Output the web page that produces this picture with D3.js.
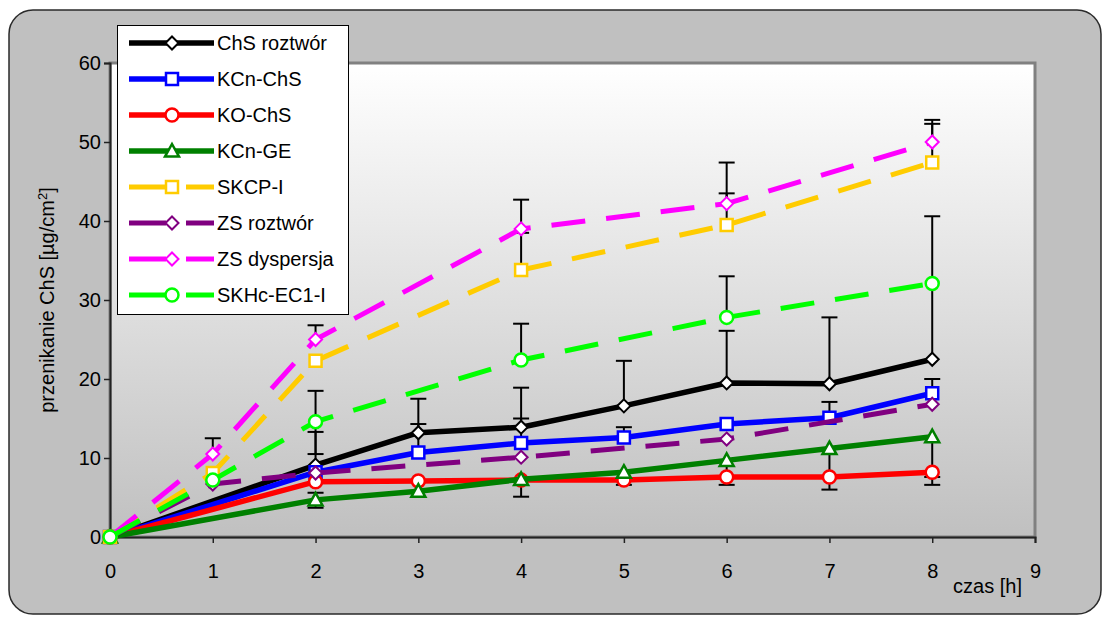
<!DOCTYPE html>
<html>
<head>
<meta charset="utf-8">
<script src="https://cdn.jsdelivr.net/npm/d3@7"></script>
<style>
  html, body { margin: 0; padding: 0; background: #ffffff; }
  svg { display: block; }
  text { font-family: "Liberation Sans", Arial, sans-serif; fill: #000; }
</style>
</head>
<body>
<svg id="chart" width="1108" height="619"></svg>
<script>
// Time points (h): solid series were sampled every hour from 2 h, dashed ones every 2 h
const timesHourly = [0, 2, 3, 4, 5, 6, 7, 8];
const timesBiHourly = [0, 1, 2, 4, 6, 8];

// Permeated ChS [µg/cm²]
const chsRoztwor  = [0, 9.1, 13.2, 13.9, 16.6, 19.5, 19.4, 22.5];
const kcnChs      = [0, 8.2, 10.7, 11.9, 12.6, 14.3, 15.1, 18.2];
const koChs       = [0, 7.0, 7.1, 7.2, 7.2, 7.6, 7.6, 8.2];
const kcnGe       = [0, 4.7, 5.8, 7.3, 8.2, 9.7, 11.2, 12.7];
const skcpI       = [0, 8.1, 22.3, 33.8, 39.5, 47.4];
const zsRoztwor   = [0, 6.7, 8.1, 10.1, 12.4, 16.8];
const zsDyspersja = [0, 10.5, 25.0, 39.0, 42.2, 50.0];
const skhcEc1I    = [0, 7.2, 14.6, 22.4, 27.8, 32.1];

// Error bars (SD): upper / lower lengths, null where no bar is drawn
const chsPlus      = [null, 4.2, 4.3, 5.0, 5.7, 6.6, 8.4, 18.1];
const kcnChsPlus   = [null, null, 3.6, 3.1, 1.3, null, 2.0, 1.8];
const koChsMinus   = [null, null, null, null, null, null, null, 0.6];
const kcnGePlus    = [null, 0.9, null, null, null, null, null, null];
const kcnGeMinus   = [null, 1.0, null, 2.2, 1.6, 3.1, 5.2, 6.1];
const skcpPlus     = [null, null, null, 4.7, 4.0, 4.9];
const zsDysPlus    = [null, 2.0, 1.8, 3.7, 5.2, 2.8];
const skhcPlus     = [null, null, 3.9, 4.6, 5.2, null];
const skhcMinus    = [null, null, 4.1, null, null, null];

// Axis ticks
const xTicks = [0, 1, 2, 3, 4, 5, 6, 7, 8, 9];
const yTicks = [0, 10, 20, 30, 40, 50, 60];

const series = [
  { name: "ChS roztwór",  t: timesHourly,   v: chsRoztwor,  plus: chsPlus,    minus: null,       color: "#000000", marker: "diamond",  dashed: false },
  { name: "KCn-ChS",      t: timesHourly,   v: kcnChs,      plus: kcnChsPlus, minus: null,       color: "#0000ff", marker: "square",   dashed: false },
  { name: "KO-ChS",       t: timesHourly,   v: koChs,       plus: null,       minus: koChsMinus, color: "#ff0000", marker: "circle",   dashed: false },
  { name: "KCn-GE",       t: timesHourly,   v: kcnGe,       plus: kcnGePlus,  minus: kcnGeMinus, color: "#008000", marker: "triangle", dashed: false },
  { name: "SKCP-I",       t: timesBiHourly, v: skcpI,       plus: skcpPlus,   minus: null,       color: "#ffcc00", marker: "square",   dashed: true },
  { name: "ZS roztwór",   t: timesBiHourly, v: zsRoztwor,   plus: null,       minus: null,       color: "#800080", marker: "diamond",  dashed: true },
  { name: "ZS dyspersja", t: timesBiHourly, v: zsDyspersja, plus: zsDysPlus,  minus: null,       color: "#ff00ff", marker: "diamond",  dashed: true },
  { name: "SKHc-EC1-I",   t: timesBiHourly, v: skhcEc1I,    plus: skhcPlus,   minus: skhcMinus,  color: "#00ff00", marker: "circle",   dashed: true }
];

const svg = d3.select("#chart");
const plot = { left: 110, top: 63, right: 1035, bottom: 537 };

const x = d3.scaleLinear().domain([0, 9]).range([plot.left, plot.right]);
const y = d3.scaleLinear().domain([0, 60]).range([plot.bottom, plot.top]);

// Chart area with rounded frame
svg.append("rect")
  .attr("x", 9).attr("y", 10).attr("width", 1092).attr("height", 604)
  .attr("rx", 24).attr("ry", 24)
  .attr("fill", "#c0c0c0").attr("stroke", "#2a2a2a").attr("stroke-width", 1.5);

// Plot area gradient
const defs = svg.append("defs");
const grad = defs.append("linearGradient").attr("id", "plotBg")
  .attr("x1", 0).attr("y1", 0).attr("x2", 0).attr("y2", 1);
grad.append("stop").attr("offset", "0%").attr("stop-color", "#ffffff");
grad.append("stop").attr("offset", "100%").attr("stop-color", "#c0c0c0");

svg.append("rect")
  .attr("x", plot.left).attr("y", plot.top)
  .attr("width", plot.right - plot.left).attr("height", plot.bottom - plot.top)
  .attr("fill", "url(#plotBg)")
  .attr("stroke", "#808080").attr("stroke-width", 3);

// Axes
const yAxis = svg.append("g")
  .attr("transform", `translate(${plot.left},0)`)
  .call(d3.axisLeft(y).tickValues(yTicks).tickSize(6).tickPadding(3).tickFormat(d3.format("d")));
const xAxis = svg.append("g")
  .attr("transform", `translate(0,${plot.bottom})`)
  .call(d3.axisBottom(x).tickValues(xTicks).tickSize(6).tickFormat(d3.format("d")));

[yAxis, xAxis].forEach(g => {
  g.select(".domain").attr("stroke", "#222").attr("stroke-width", 2);
  g.selectAll(".tick line").attr("stroke", "#222").attr("stroke-width", 1.5);
  g.selectAll("text").attr("font-size", 20).attr("fill", "#000")
    .style("font-family", '"Liberation Sans", Arial, sans-serif');
});
xAxis.selectAll("text").attr("y", 27);

// Axis titles
svg.append("text")
  .attr("x", 1022).attr("y", 593)
  .attr("text-anchor", "end").attr("font-size", 20)
  .text("czas [h]");

const yTitle = svg.append("text")
  .attr("transform", "translate(54,300) rotate(-90)")
  .attr("text-anchor", "middle").attr("font-size", 20);
yTitle.append("tspan").text("przenikanie ChS [µg/cm");
yTitle.append("tspan").attr("baseline-shift", "super").attr("font-size", 13).text("2");
yTitle.append("tspan").text("]");

// Marker shapes
function markerPath(type) {
  switch (type) {
    case "diamond": { const r = 6.5; return `M0,${-r}L${r},0L0,${r}L${-r},0Z`; }
    case "square":  { const s = 6;   return `M${-s},${-s}H${s}V${s}H${-s}Z`; }
    case "triangle":{ const s = 7;   return `M0,${-s}L${s},${s * 0.8}L${-s},${s * 0.8}Z`; }
    default: return null;
  }
}
function drawMarker(g, type, color, cx, cy) {
  if (type === "circle") {
    g.append("circle").attr("cx", cx).attr("cy", cy).attr("r", 6.5)
      .attr("fill", "#fff").attr("stroke", color).attr("stroke-width", 2.5);
  } else {
    g.append("path").attr("d", markerPath(type))
      .attr("transform", `translate(${cx},${cy})`)
      .attr("fill", "#fff").attr("stroke", color)
      .attr("stroke-width", type === "diamond" ? 2 : 2.5)
      .attr("stroke-linejoin", "miter");
  }
}

// Error bars (black, with caps)
const errG = svg.append("g").attr("stroke", "#000").attr("stroke-width", 2);
const capHalf = 8;
series.forEach(s => {
  s.t.forEach((t, i) => {
    const cx = x(t), cy = y(s.v[i]);
    [[s.plus, 1], [s.minus, -1]].forEach(([arr, sign]) => {
      if (!arr || arr[i] == null) return;
      const ey = y(s.v[i] + sign * arr[i]);
      errG.append("line").attr("x1", cx).attr("x2", cx).attr("y1", cy).attr("y2", ey);
      errG.append("line").attr("x1", cx - capHalf).attr("x2", cx + capHalf).attr("y1", ey).attr("y2", ey);
    });
  });
});

// Lines and markers, series by series
const line = d3.line().x(d => x(d[0])).y(d => y(d[1]));
series.forEach(s => {
  const g = svg.append("g");
  const pts = s.t.map((t, i) => [t, s.v[i]]);
  g.append("path").attr("d", line(pts))
    .attr("fill", "none").attr("stroke", s.color)
    .attr("stroke-width", s.dashed ? 5 : 5.5)
    .attr("stroke-linejoin", "round")
    .attr("stroke-dasharray", s.dashed ? "34,21" : null);
  pts.forEach(p => drawMarker(g, s.marker, s.color, x(p[0]), y(p[1])));
});

// Legend
const legend = svg.append("g");
legend.append("rect")
  .attr("x", 117.5).attr("y", 25.5).attr("width", 231).attr("height", 289)
  .attr("fill", "#fff").attr("stroke", "#000").attr("stroke-width", 1);
series.forEach((s, i) => {
  const ly = 43 + i * 36;
  const row = legend.append("g");
  if (s.dashed) {
    row.append("line").attr("x1", 129).attr("x2", 166).attr("y1", ly).attr("y2", ly)
      .attr("stroke", s.color).attr("stroke-width", 5);
    row.append("line").attr("x1", 186).attr("x2", 214).attr("y1", ly).attr("y2", ly)
      .attr("stroke", s.color).attr("stroke-width", 5);
  } else {
    row.append("line").attr("x1", 129).attr("x2", 214).attr("y1", ly).attr("y2", ly)
      .attr("stroke", s.color).attr("stroke-width", 5.5);
  }
  drawMarker(row, s.marker, s.color, 172, ly);
  row.append("text").attr("x", 217).attr("y", ly + 7).attr("font-size", 20).text(s.name);
});
</script>
</body>
</html>
